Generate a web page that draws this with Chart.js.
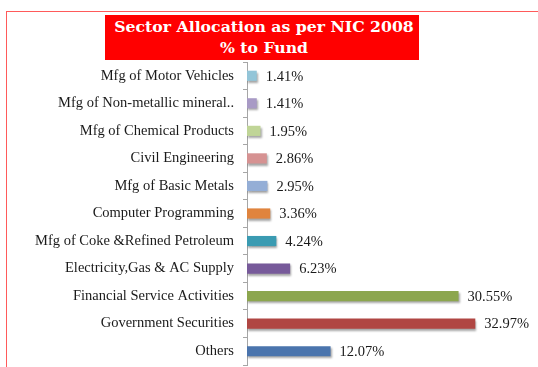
<!DOCTYPE html>
<html>
<head>
<meta charset="utf-8">
<script src="https://cdn.jsdelivr.net/npm/chart.js@4.4.1/dist/chart.umd.min.js"></script>
<style>
  html, body { margin: 0; padding: 0; background: #fff; }
  #wrap { position: relative; width: 538px; height: 367px; overflow: hidden; }
  #frame { position: absolute; left: 6px; top: 11px; width: 600px; height: 400px;
           border-left: 1px solid #FF5A5A; border-top: 1px solid #FF5A5A; box-sizing: border-box; }
  #title { position: absolute; left: 105px; top: 15px; width: 314px; height: 45px; background: #FF0000;
           color: #fff; font-family: "DejaVu Serif", serif; font-weight: bold; font-size: 15.7px;
           line-height: 20.5px; text-align: center; padding-top: 2px; padding-left: 4px; box-sizing: border-box;
           white-space: nowrap; }
  canvas { position: absolute; left: 0; top: 0; }
</style>
</head>
<body>
<div id="wrap">
  <div id="frame"></div>
  <canvas id="c" width="538" height="367"></canvas>
  <div id="title">Sector Allocation as per NIC 2008<br>% to Fund</div>
</div>
<script>
const categories = [
  "Mfg of Motor Vehicles",
  "Mfg of Non-metallic mineral..",
  "Mfg of Chemical Products",
  "Civil Engineering",
  "Mfg of Basic Metals",
  "Computer Programming",
  "Mfg of Coke &Refined Petroleum",
  "Electricity,Gas & AC Supply",
  "Financial Service Activities",
  "Government Securities",
  "Others"
];
const values = [1.41, 1.41, 1.95, 2.86, 2.95, 3.36, 4.24, 6.23, 30.55, 32.97, 12.07];
const barColors = [
  "#93C5D8", "#A89AC5", "#C0D597", "#D69292", "#94AED6", "#E0843E",
  "#3A9BB2", "#775A9A", "#8CA64E", "#B04643", "#4A74AD"
];

const shadowPlugin = {
  id: 'barShadow',
  beforeDatasetDraw(chart) {
    const ctx = chart.ctx;
    ctx.save();
    ctx.shadowColor = 'rgba(0,0,0,0.35)';
    ctx.shadowBlur = 2;
    ctx.shadowOffsetX = 1;
    ctx.shadowOffsetY = 2;
  },
  afterDatasetDraw(chart) {
    chart.ctx.restore();
  }
};

const labelPlugin = {
  id: 'valueLabels',
  afterDatasetsDraw(chart) {
    const ctx = chart.ctx;
    const meta = chart.getDatasetMeta(0);
    ctx.save();
    ctx.font = '14.5px "Liberation Serif", "Times New Roman", serif';
    ctx.fillStyle = '#1a1a1a';
    ctx.textAlign = 'left';
    ctx.textBaseline = 'middle';
    meta.data.forEach((el, i) => {
      ctx.fillText(values[i].toFixed(2) + '%', el.x + 9, el.y + 1);
    });
    ctx.restore();
  }
};

new Chart(document.getElementById('c'), {
  type: 'bar',
  data: {
    labels: categories,
    datasets: [{
      data: values,
      backgroundColor: barColors,
      borderWidth: 0,
      categoryPercentage: 1.0,
      barPercentage: 0.37
    }]
  },
  options: {
    indexAxis: 'y',
    responsive: false,
    animation: false,
    devicePixelRatio: 1,
    layout: { padding: { left: 0, right: 14, top: 62, bottom: 2 } },
    plugins: { legend: { display: false }, tooltip: { enabled: false }, title: { display: false } },
    scales: {
      x: { display: false, min: 0, max: 40 },
      y: {
        afterFit(scale) { scale.width = 247; scale.paddingTop = 0; scale.paddingBottom = 0; },
        border: { display: true, color: '#A6A6A6', width: 1 },
        grid: { drawOnChartArea: false, drawTicks: true, tickLength: 4, color: '#A6A6A6', offset: true },
        ticks: {
          color: '#1a1a1a',
          padding: 9,
          font: { family: '"Liberation Serif", "Times New Roman", serif', size: 14.5 }
        }
      }
    }
  },
  plugins: [shadowPlugin, labelPlugin]
});
</script>
</body>
</html>
